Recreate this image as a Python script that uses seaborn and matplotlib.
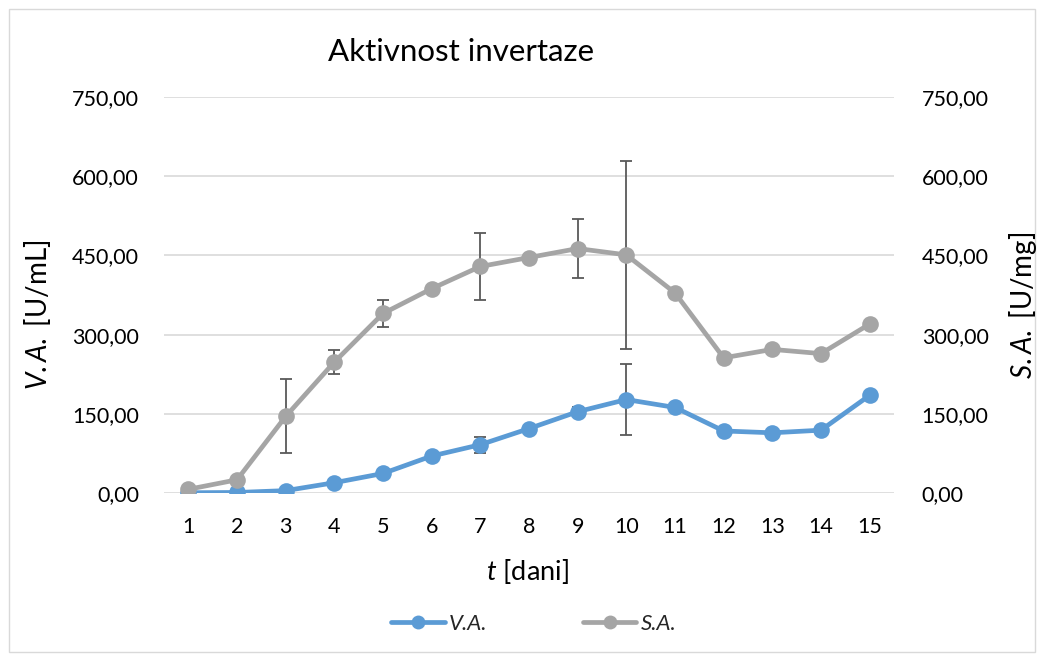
import numpy as np
import pandas as pd
import matplotlib
matplotlib.use("Agg")
import matplotlib.pyplot as plt
import seaborn as sns
from matplotlib.patches import Rectangle
from matplotlib.ticker import FuncFormatter
from matplotlib.lines import Line2D

# ---- data ----
days = list(range(1, 16))
va = [0.5, 1, 4.5, 19.5, 37, 70, 91.5, 122, 154, 177, 162, 117.5, 114, 119, 185]
va_err = [0, 0, 0, 0, 0, 0, 15, 0, 8, 67, 0, 0, 0, 0, 0]
sa = [7, 25, 145, 248, 340, 387, 429, 446, 463, 451, 379, 256, 272, 264, 320]
sa_err = [0, 0, 70, 23, 25, 0, 64, 0, 55, 178, 0, 0, 0, 0, 0]
series_names = ["V.A.", "S.A."]
yticks = [0, 150, 300, 450, 600, 750]
title = "Aktivnost invertaze"

sns.set_theme(style="white")
plt.rcParams['font.family'] = ['Lato', 'DejaVu Sans']
plt.rcParams['mathtext.fontset'] = 'custom'
plt.rcParams['mathtext.it'] = 'Lato:italic'
plt.rcParams['mathtext.rm'] = 'Lato'

BLUE = "#5B9BD5"
GRAY = "#A5A5A5"
ERR = "#595959"
TXT = "#000000"

df = pd.DataFrame({
    "t": days * 2,
    "val": va + sa,
    "series": [series_names[0]] * len(days) + [series_names[1]] * len(days),
})

W, H = 1043, 659
fig = plt.figure(figsize=(W / 100, H / 100), dpi=100)
fig.patches.append(Rectangle((9 / W, 1 - 652 / H), (1035 - 9) / W, (652 - 9) / H,
                             transform=fig.transFigure, fill=False,
                             edgecolor="#D9D9D9", linewidth=1.0))
ax = fig.add_axes([164 / W, 1 - 493 / H, (894 - 164) / W, (493 - 97) / H])

sns.lineplot(data=df, x="t", y="val", hue="series", hue_order=series_names,
             palette={series_names[0]: BLUE, series_names[1]: GRAY},
             marker="o", markersize=12, markeredgewidth=0, linewidth=3.4,
             ax=ax, legend=False)
for line in ax.get_lines():
    if matplotlib.colors.to_hex(line.get_color()).lower() == GRAY.lower():
        line.set_zorder(4)
    else:
        line.set_zorder(3.5)

sa_idx = [i for i, e in enumerate(sa_err) if e > 0]
va_idx = [i for i, e in enumerate(va_err) if e > 0]
ax.errorbar([days[i] for i in sa_idx], [sa[i] for i in sa_idx],
            yerr=[sa_err[i] for i in sa_idx], fmt="none", ecolor=ERR,
            elinewidth=1.3, capsize=4.5, capthick=1.3, zorder=3)
ax.errorbar([days[i] for i in va_idx], [va[i] for i in va_idx],
            yerr=[va_err[i] for i in va_idx], fmt="none", ecolor=ERR,
            elinewidth=1.3, capsize=4.5, capthick=1.3, zorder=3)

ax.set_xlim(0.5, 15.5)
ax.set_ylim(0, 750)
ax.set_xticks(days)
ax.set_xticklabels([str(d) for d in days])
ax.set_yticks(yticks)
fmt = FuncFormatter(lambda v, p: f"{v:.2f}".replace(".", ","))
ax.yaxis.set_major_formatter(fmt)
ax.grid(axis="y", color="#D9D9D9", linewidth=1.2)
ax.grid(axis="x", visible=False)
for s in ["top", "right", "left", "bottom"]:
    ax.spines[s].set_visible(False)
ax.tick_params(axis="both", length=0, labelsize=15.5, colors=TXT)
ax.tick_params(axis="y", pad=18)
ax.tick_params(axis="x", pad=17)
ax.set_xlabel("")
ax.set_ylabel("")

ax2 = ax.twinx()
ax2.set_ylim(0, 750)
ax2.set_yticks(yticks)
ax2.yaxis.set_major_formatter(fmt)
for s in ["top", "right", "left", "bottom"]:
    ax2.spines[s].set_visible(False)
ax2.tick_params(axis="y", length=0, labelsize=15.5, colors=TXT, pad=20)
ax2.grid(False)

fig.text(527 / W, 1 - 572 / H, r"$\it{t}$ [dani]", ha="center", va="center",
         fontsize=19.5, color=TXT)
fig.text(38 / W, 1 - 315 / H, r"$\it{V.A.}$ [U/mL]", ha="center", va="center",
         rotation=90, fontsize=20, color=TXT)
fig.text(1023 / W, 1 - 305 / H, r"$\it{S.A.}$ [U/mg]", ha="center", va="center",
         rotation=90, fontsize=20, color=TXT)

fig.text(461 / W, 1 - 52 / H, title, ha="center", va="center", fontsize=22.5, color=TXT)

handles = [Line2D([], [], color=BLUE, marker="o", markersize=10, markeredgewidth=0, linewidth=3.4),
           Line2D([], [], color=GRAY, marker="o", markersize=10, markeredgewidth=0, linewidth=3.4)]
leg = fig.legend(handles, series_names, loc="center", bbox_to_anchor=(534 / W, 1 - 624 / H),
                 ncol=2, frameon=False, handlelength=2.4, columnspacing=4.3,
                 handletextpad=0.2, prop={"style": "italic", "size": 16})

fig.savefig("out.png", dpi=100)
